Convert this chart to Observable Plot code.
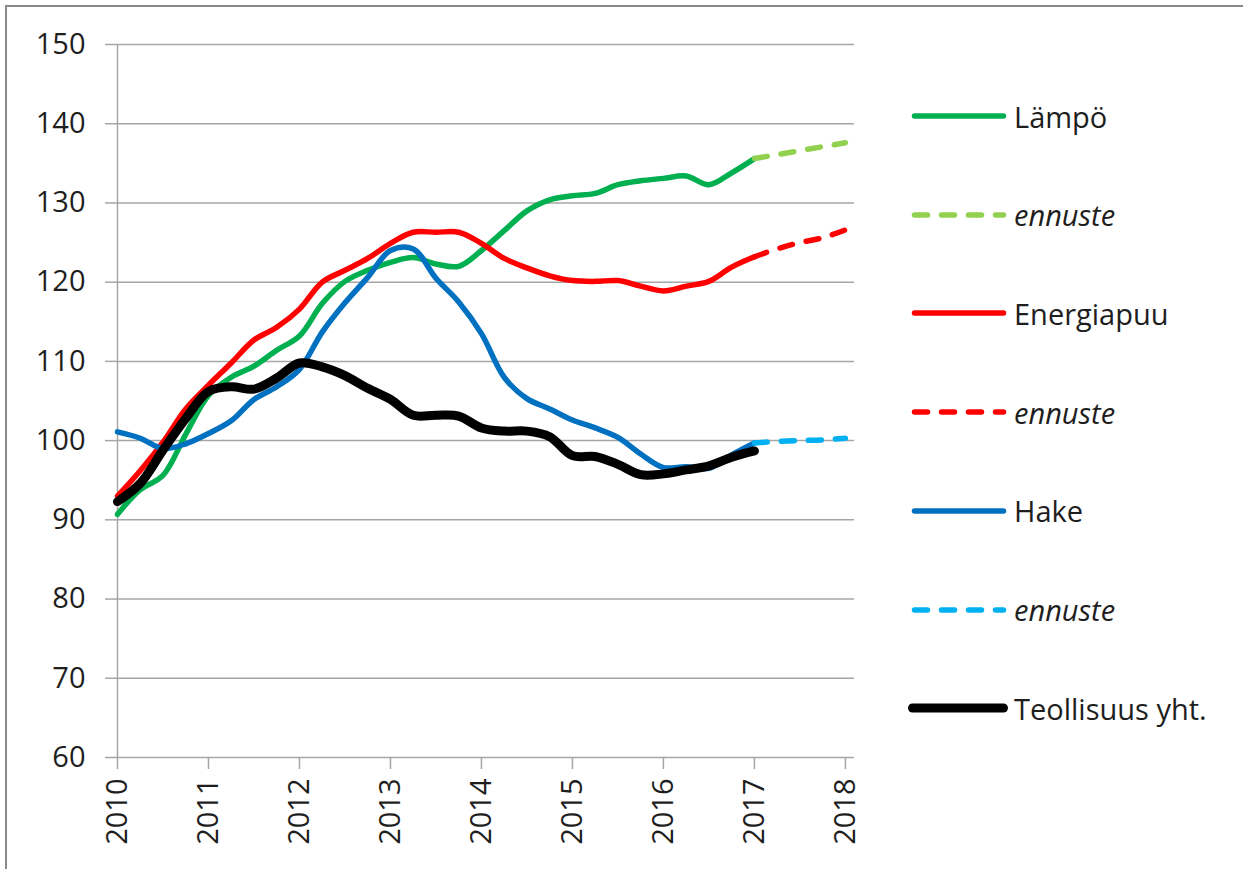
<!DOCTYPE html>
<html><head><meta charset="utf-8">
<script src="https://cdn.jsdelivr.net/npm/d3@7"></script>
<script src="https://cdn.jsdelivr.net/npm/@observablehq/plot@0.6"></script>
<style>
html,body{margin:0;padding:0;background:#fff;overflow:hidden;width:1243px;height:869px;}
#frame{position:absolute;left:5px;top:5px;width:1300px;height:900px;border:2px solid #8a8a8a;}
#chart{position:absolute;left:0;top:0;}
#legend{position:absolute;left:0;top:0;font-family:"Open Sans";font-size:29px;color:#1e1e1e;}
.row{position:absolute;left:908px;height:40px;display:flex;align-items:center;white-space:nowrap;}
.row svg{display:block;}
.row span{margin-left:6px;}
</style></head>
<body><div id="frame"></div><div id="chart"></div><div id="legend"></div>
<script>
// quarterly time points
const years = [2010, 2010.25, 2010.5, 2010.75, 2011, 2011.25, 2011.5, 2011.75,
  2012, 2012.25, 2012.5, 2012.75, 2013, 2013.25, 2013.5, 2013.75,
  2014, 2014.25, 2014.5, 2014.75, 2015, 2015.25, 2015.5, 2015.75,
  2016, 2016.25, 2016.5, 2016.75, 2017];
const lampo = [90.7, 93.8, 95.6, 100.8, 105.7, 108.0, 109.4, 111.4,
  113.2, 117.3, 120.1, 121.5, 122.5, 123.1, 122.3, 122.0,
  124.0, 126.5, 129.0, 130.4, 130.9, 131.2, 132.3, 132.8,
  133.1, 133.4, 132.3, 133.8, 135.6];
const energiapuu = [93.0, 96.2, 99.8, 104.0, 107.0, 109.8, 112.7, 114.3,
  116.6, 120.0, 121.5, 123.0, 124.9, 126.3, 126.3, 126.3,
  124.9, 123.0, 121.8, 120.8, 120.2, 120.1, 120.2, 119.5,
  118.9, 119.5, 120.1, 121.9, 123.2];
const hake = [101.1, 100.3, 99.0, 99.6, 100.9, 102.5, 105.2, 106.8,
  109.0, 113.7, 117.4, 120.6, 124.0, 124.2, 120.5, 117.5,
  113.5, 108.0, 105.3, 104.0, 102.6, 101.6, 100.4, 98.3,
  96.6, 96.7, 96.5, 98.2, 99.7];
const teollisuus = [92.3, 94.6, 98.8, 102.8, 106.2, 106.8, 106.5, 107.9,
  109.8, 109.3, 108.2, 106.6, 105.2, 103.2, 103.2, 103.1,
  101.6, 101.2, 101.2, 100.5, 98.1, 98.0, 97.0, 95.7,
  95.8, 96.3, 96.8, 97.9, 98.7];

// forecasts (ennuste)
const forecastYears = [2017, 2017.25, 2017.5, 2017.75, 2018];
const lampoEnnuste = [135.6, 136.1, 136.6, 137.1, 137.6];
const energiapuuEnnuste = [123.2, 124.2, 125.0, 125.6, 126.6];
const hakeEnnuste = [99.7, 99.9, 100.0, 100.1, 100.3];

const yTicks = [60, 70, 80, 90, 100, 110, 120, 130, 140, 150];
const xTicks = [2010, 2011, 2012, 2013, 2014, 2015, 2016, 2017, 2018];

const legendLabels = ["Lämpö", "ennuste", "Energiapuu", "ennuste", "Hake", "ennuste", "Teollisuus yht."];
const legendColors = ["#00B050", "#92D050", "#FF0000", "#FF0000", "#0070C0", "#00B0F0", "#000000"];

const rows = (xs, vs) => xs.map((x, i) => ({x, v: vs[i]}));
const solid = (data, color, w) => Plot.line(data, {x: "x", y: "v", stroke: color, strokeWidth: w, curve: "catmull-rom", strokeLinejoin: "round", strokeLinecap: "round"});
const dashed = (data, color) => Plot.line(data, {x: "x", y: "v", stroke: color, strokeWidth: 5.5, curve: "catmull-rom", strokeDasharray: "13 14", strokeLinecap: "round"});

const chart = Plot.plot({
  width: 1243, height: 869,
  marginLeft: 117, marginRight: 389, marginTop: 44, marginBottom: 112,
  x: {domain: [2010, 2018.1], axis: null},
  y: {domain: [60, 150], axis: null},
  style: {fontFamily: "Open Sans", fontSize: "29px", background: "transparent", overflow: "visible"},
  marks: [
    Plot.ruleY(yTicks, {stroke: "#a6a6a6", strokeWidth: 1.5}),
    Plot.ruleX([2010], {stroke: "#a6a6a6", strokeWidth: 1.5}),
    Plot.axisY({ticks: yTicks, label: null, tickSize: 12, tickPadding: 20, stroke: "#a6a6a6", strokeWidth: 1.5, fill: "#1e1e1e", fontSize: 29, tickFormat: d => String(d)}),
    Plot.axisX({ticks: xTicks, label: null, tickSize: 12, tickPadding: 9, tickRotate: -90, stroke: "#a6a6a6", strokeWidth: 1.5, fill: "#1e1e1e", fontSize: 29, tickFormat: d => String(d)}),
    solid(rows(years, lampo), legendColors[0], 5.5),
    dashed(rows(forecastYears, lampoEnnuste), legendColors[1]),
    solid(rows(years, energiapuu), legendColors[2], 5.5),
    dashed(rows(forecastYears, energiapuuEnnuste), legendColors[3]),
    solid(rows(years, hake), legendColors[4], 5.5),
    dashed(rows(forecastYears, hakeEnnuste), legendColors[5]),
    solid(rows(years, teollisuus), legendColors[6], 9)
  ]
});
document.getElementById("chart").appendChild(chart);

// legend
const legend = document.getElementById("legend");
legendLabels.forEach((label, i) => {
  const isDash = label === "ennuste";
  const isBlack = i === 6;
  const row = document.createElement("div");
  row.className = "row";
  row.style.top = (116 + i * 98.7 - 20) + "px";
  const w = isBlack ? 9 : 5.5;
  row.innerHTML = `<svg width="100" height="14"><line x1="${isBlack ? 4.5 : 6.5}" x2="95.5" y1="7" y2="7" stroke="${legendColors[i]}" stroke-width="${w}" stroke-linecap="round" ${isDash ? 'stroke-dasharray="13 14"' : ''}/></svg><span style="${isDash ? 'font-style:italic' : ''}">${label}</span>`;
  legend.appendChild(row);
});
</script>
</body></html>
